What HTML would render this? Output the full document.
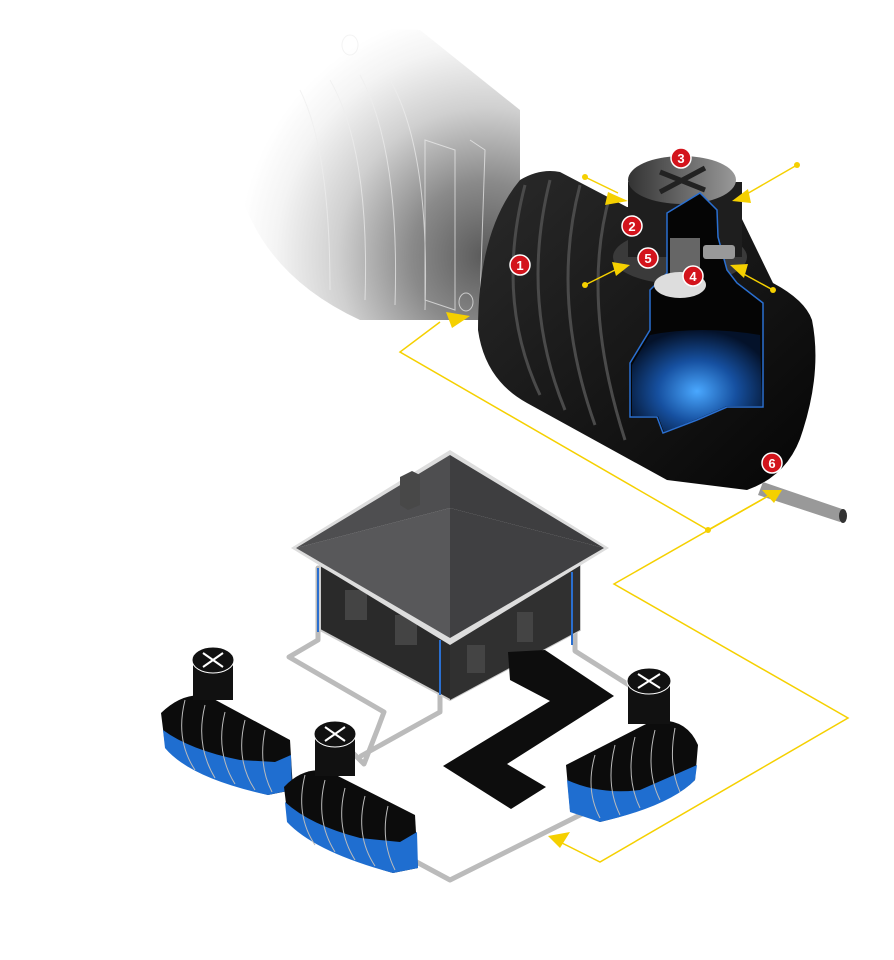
<!DOCTYPE html>
<html><head><meta charset="utf-8"><style>
html,body{margin:0;padding:0;background:#fff;width:894px;height:960px;overflow:hidden}
svg{display:block}
text{font-family:"Liberation Sans",sans-serif;font-weight:bold}
</style></head><body>
<svg width="894" height="960" viewBox="0 0 894 960" xmlns="http://www.w3.org/2000/svg">
<defs>
<radialGradient id="fade" cx="0.88" cy="0.78" r="0.85">
<stop offset="0" stop-color="#5a5a5a"/><stop offset="0.3" stop-color="#8a8a8a"/><stop offset="0.6" stop-color="#d0d0d0"/><stop offset="0.85" stop-color="#f4f4f4"/><stop offset="1" stop-color="#fff"/></radialGradient>
<radialGradient id="water" cx="0.5" cy="0.6" r="0.6">
<stop offset="0" stop-color="#4aa8ff"/><stop offset="0.5" stop-color="#1650a0"/><stop offset="1" stop-color="#04122a"/></radialGradient>
<linearGradient id="tank" x1="0" y1="0" x2="1" y2="1">
<stop offset="0" stop-color="#2a2a2a"/><stop offset="1" stop-color="#050505"/></linearGradient>
<linearGradient id="lid" x1="0" y1="0" x2="1" y2="0">
<stop offset="0" stop-color="#333"/><stop offset="0.5" stop-color="#666"/><stop offset="1" stop-color="#999"/></linearGradient>
</defs>
<!-- faded pipe -->
<path d="M230 120 Q280 20 420 30 L520 110 L520 320 L360 320 Q230 260 230 120Z" fill="url(#fade)"/>
<g fill="none" stroke="#eee" stroke-width="1" opacity="0.7">
<path d="M300 90 Q330 150 330 290"/><path d="M330 80 Q370 150 365 300"/><path d="M360 75 Q400 150 395 305"/>
<path d="M390 80 Q430 150 425 310"/><path d="M425 140 L455 150 L455 310 L425 300Z"/>
<path d="M470 140 L485 150 L480 300"/><ellipse cx="350" cy="45" rx="8" ry="10"/><ellipse cx="466" cy="302" rx="7" ry="9"/>
</g>
<!-- big tank -->
<path d="M520 180 Q540 168 560 172 L627 207 L740 215 L773 283 Q805 300 812 320 Q822 370 803 430 Q790 475 747 490 L667 480 L527 403 Q485 380 478 330 Q478 230 520 180Z" fill="url(#tank)"/>
<g stroke="#4a4a4a" stroke-width="3" fill="none">
<path d="M525 185 Q495 300 540 395"/><path d="M550 180 Q520 300 565 410"/><path d="M580 185 Q550 300 595 425"/><path d="M610 195 Q580 300 625 440"/>
</g>
<!-- riser collar -->
<ellipse cx="680" cy="257" rx="67" ry="27" fill="#3a3a3a"/>
<rect x="628" y="182" width="114" height="75" fill="#1e1e1e"/>
<ellipse cx="682" cy="180" rx="54" ry="24" fill="url(#lid)"/>
<path d="M660 172 L705 190 M705 168 L660 192" stroke="#222" stroke-width="5"/>
<!-- cutout -->
<path d="M667 213 L700 193 L717 210 L718 237 L727 270 L737 283 L763 303 L763 407 L727 407 L697 420 L663 433 L657 417 L630 417 L630 363 L650 330 L650 290 L667 273 Z" fill="#050505" stroke="#2a6fd0" stroke-width="1.5"/>
<path d="M632 365 L650 335 Q700 325 760 335 L762 406 L727 406 L697 419 L664 432 L658 416 L632 416Z" fill="url(#water)"/>
<rect x="670" y="238" width="30" height="40" fill="#666"/>
<ellipse cx="680" cy="285" rx="26" ry="13" fill="#ddd"/>
<rect x="703" y="245" width="32" height="14" fill="#999" rx="3"/>
<!-- outlet pipe -->
<path d="M763 482 L845 510 L840 522 L758 495Z" fill="#999"/>
<ellipse cx="843" cy="516" rx="4" ry="7" fill="#333"/>
<!-- yellow lines -->
<g stroke="#f5d000" stroke-width="1.5" fill="none">
<polyline points="440,322 400,352 708,530 770,495"/>
<polyline points="770,495 614,584 848,718 600,862 552,838"/>
<line x1="585" y1="177" x2="618" y2="193"/><line x1="797" y1="165" x2="745" y2="195"/>
<line x1="585" y1="285" x2="625" y2="265"/><line x1="773" y1="290" x2="740" y2="272"/>
</g>
<g fill="#f5d000">
<polygon points="470,316 446,312 452,328"/><polygon points="782,490 762,490 774,503"/>
<polygon points="548,836 570,832 560,848"/><polygon points="628,201 608,192 605,205"/>
<polygon points="732,201 748,189 751,203"/><polygon points="630,265 612,262 616,276"/>
<polygon points="730,265 748,264 744,278"/>
<circle cx="585" cy="177" r="3"/><circle cx="797" cy="165" r="3"/><circle cx="585" cy="285" r="3"/><circle cx="773" cy="290" r="3"/><circle cx="708" cy="530" r="3"/>
</g>
<!-- numbers -->
<g fill="#d3141c" stroke="#fff" stroke-width="1.5">
<circle cx="520" cy="265" r="10"/><circle cx="632" cy="226" r="10"/><circle cx="681" cy="158" r="10"/>
<circle cx="693" cy="276" r="10"/><circle cx="648" cy="258" r="10"/><circle cx="772" cy="463" r="10"/></g>
<g fill="#fff" font-size="13" text-anchor="middle">
<text x="520" y="270">1</text><text x="632" y="231">2</text><text x="681" y="163">3</text>
<text x="693" y="281">4</text><text x="648" y="263">5</text><text x="772" y="468">6</text></g>
<!-- pipes -->
<g stroke="#bbb" stroke-width="5" fill="none" stroke-linecap="round" stroke-linejoin="round">
<polyline points="318,568 318,640 289,657 384,712 378,728 364,764 352,752"/>
<polyline points="440,690 440,712 361,756"/>
<polyline points="575,570 575,651 632,687"/>
<polyline points="280,775 290,782"/>
<polyline points="398,852 450,880 586,812"/>
</g>
<!-- house -->
<path d="M320 565 L450 640 L580 565 L580 630 L450 700 L320 630Z" fill="#2a2a2a" stroke="#ccc" stroke-width="2"/>
<path d="M450 640 L580 565 L580 630 L450 700Z" fill="#303030"/>
<g fill="#444"><rect x="345" y="590" width="22" height="30"/><rect x="395" y="615" width="22" height="30"/><rect x="467" y="645" width="18" height="28"/><rect x="517" y="612" width="16" height="30"/></g>
<line x1="318" y1="568" x2="318" y2="632" stroke="#2a6fd0" stroke-width="2"/>
<line x1="440" y1="640" x2="440" y2="695" stroke="#2a6fd0" stroke-width="2"/>
<line x1="572" y1="572" x2="572" y2="645" stroke="#2a6fd0" stroke-width="2"/>
<polygon points="450,450 609,548 450,645 291,548" fill="#ddd"/>
<polygon points="450,455 450,508 296,548" fill="#4e4e50"/>
<polygon points="450,455 604,548 450,508" fill="#3e3e40"/>
<polygon points="296,548 450,508 450,638" fill="#58585a"/>
<polygon points="604,548 450,508 450,638" fill="#404042"/>
<polygon points="400,477 412,471 420,475 420,505 408,510 400,505" fill="#484848"/>
<!-- path -->
<polygon points="508,652 545,650 614,696 507,764 546,787 511,809 443,766 550,701 510,680" fill="#0d0d0d"/>
<!-- small tanks -->
<g>
<path d="M161 713 Q185 690 210 697 L290 740 L293 790 L268 795 Q190 775 165 745Z" fill="#0c0c0c"/>
<path d="M163 730 Q190 750 240 760 L275 762 L291 755 L292 790 L268 795 Q190 778 165 748Z" fill="#1f6ed0"/>
<g stroke="#bbb" stroke-width="1" fill="none"><path d="M185 700 Q175 740 195 770"/><path d="M205 705 Q195 745 215 778"/><path d="M225 712 Q215 752 235 784"/><path d="M245 720 Q235 760 255 790"/><path d="M265 730 Q258 765 272 792"/></g>
<rect x="193" y="664" width="40" height="36" fill="#111"/><ellipse cx="213" cy="660" rx="21" ry="13" fill="#111" stroke="#fff"/>
<path d="M203 653 L223 667 M223 653 L203 667" stroke="#fff" stroke-width="2"/>
<path d="M284 787 Q305 765 330 772 L415 815 L418 868 L393 873 Q315 850 288 820Z" fill="#0c0c0c"/>
<path d="M285 802 Q310 825 360 838 L400 842 L417 832 L418 868 L393 873 Q315 852 287 822Z" fill="#1f6ed0"/>
<g stroke="#bbb" stroke-width="1" fill="none"><path d="M305 775 Q295 815 315 845"/><path d="M325 780 Q315 820 335 852"/><path d="M345 788 Q335 828 355 860"/><path d="M365 796 Q355 836 375 866"/><path d="M388 806 Q380 840 395 870"/></g>
<rect x="315" y="738" width="40" height="38" fill="#111"/><ellipse cx="335" cy="734" rx="21" ry="13" fill="#111" stroke="#fff"/>
<path d="M325 727 L345 741 M345 727 L325 741" stroke="#fff" stroke-width="2"/>
<path d="M566 765 L650 722 Q685 715 698 745 L695 780 Q670 805 600 822 L570 810Z" fill="#0c0c0c"/>
<path d="M567 780 Q600 795 640 790 L697 765 L695 780 Q670 806 600 822 L570 812Z" fill="#1f6ed0"/>
<g stroke="#bbb" stroke-width="1" fill="none"><path d="M595 755 Q585 790 600 818"/><path d="M615 745 Q605 785 620 815"/><path d="M635 737 Q625 777 640 808"/><path d="M655 730 Q645 770 660 800"/><path d="M675 728 Q668 765 680 792"/></g>
<rect x="628" y="686" width="42" height="38" fill="#111"/><ellipse cx="649" cy="681" rx="22" ry="13" fill="#111" stroke="#fff"/>
<path d="M638 674 L660 688 M660 674 L638 688" stroke="#fff" stroke-width="2"/>
</g>
</svg>
</body></html>
